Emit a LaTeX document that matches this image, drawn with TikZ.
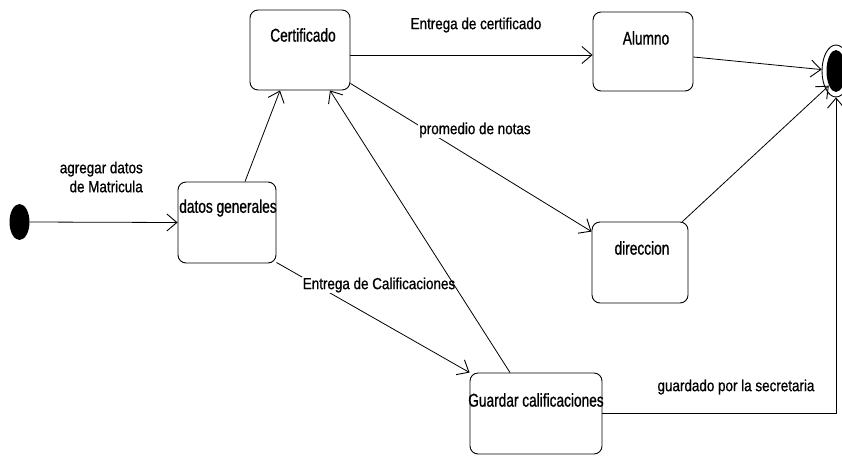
\documentclass[tikz,border=0pt]{standalone}
\usepackage{fontspec}
\setmainfont[FakeStretch=0.84,FakeBold=0.8]{Liberation Sans}
\newfontfamily\statefont[FakeStretch=0.74,FakeBold=0.8]{Liberation Sans}
\usetikzlibrary{arrows.meta,calc,shapes.geometric}
\begin{document}
\begin{tikzpicture}[x=1pt,y=-1pt,
  font=\fontsize{16}{19}\selectfont,
  state/.style={draw, rounded corners=8pt, line width=0.9pt, fill=white, inner sep=0pt},
  stname/.style={inner sep=0pt, font=\statefont\fontsize{18.5}{21}\selectfont},
  txt/.style={inner sep=0pt},
  lbl/.style={inner sep=1pt, fill=white},
  tr/.style={line width=0.8pt, -{Straight Barb[length=10pt,width=17pt,line width=0.9pt]}}]
\useasboundingbox (0,0) rectangle (842,455);

% initial and final pseudo-states
\node[ellipse, fill=black, minimum width=20pt, minimum height=36pt, inner sep=0pt] (init) at (19.5,222) {};
\node[ellipse, draw, line width=0.9pt, fill=white, minimum width=28pt, minimum height=52pt, inner sep=0pt] (final) at (836,71) {};
\node[ellipse, fill=black, minimum width=19pt, minimum height=42pt, inner sep=0pt] (finalcore) at (836,71) {};

% states
\node[state, minimum width=98pt, minimum height=81pt] (dg) at (227,222.5) {};
\node[state, minimum width=100pt, minimum height=80pt] (cert) at (300,50) {};
\node[state, minimum width=100pt, minimum height=79pt] (alum) at (643,51.5) {};
\node[state, minimum width=96pt, minimum height=81pt] (dir) at (640,262.5) {};
\node[state, minimum width=132pt, minimum height=81pt] (guar) at (536,413.5) {};

\node[stname] (dgtxt) at (228,208) {datos generales};
\node[stname] (certtxt) at (303,35) {Certificado};
\node[stname] (alumtxt) at (646,38) {Alumno};
\node[stname] (dirtxt) at (642,248) {direccion};
\node[stname] (guartxt) at (536,400) {Guardar calificaciones};

% transitions
\draw[tr] (init.east) -- (dg.west);
\node[txt, align=right, anchor=east] (l1) at (143,177) {agregar datos\\de Matricula};

\draw[tr] ($(dg.north)+(18,0)$) -- ($(cert.south)+(-20,0)$);

\draw[tr] ($(cert.east)+(0,5)$) -- ($(alum.west)+(0,3.5)$);
\node[txt] (l2) at (476,25) {Entrega de certificado};

\draw[tr] ($(cert.south east)+(0,-7)$) -- ($(dir.north west)+(0,10)$);
\node[lbl] (l3) at (475,130) {promedio de notas};

\draw[tr] ($(dg.south east)+(0,-1)$) -- (guar.north west);
\node[lbl] (l4) at (379,285) {Entrega de Calificaciones};

\draw[tr] ($(guar.north)+(-26,0)$) -- ($(cert.south)+(30,0)$);

\draw[tr] ($(alum.east)+(0,5.5)$) -- (final);
\draw[tr] ($(dir.north east)+(-6,0)$) -- ($(final.south west)+(3,-4)$);

\draw[tr] (guar.east) -| (final.south);
\node[txt] (l5) at (736,387) {guardado por la secretaria};
\end{tikzpicture}
\end{document}
